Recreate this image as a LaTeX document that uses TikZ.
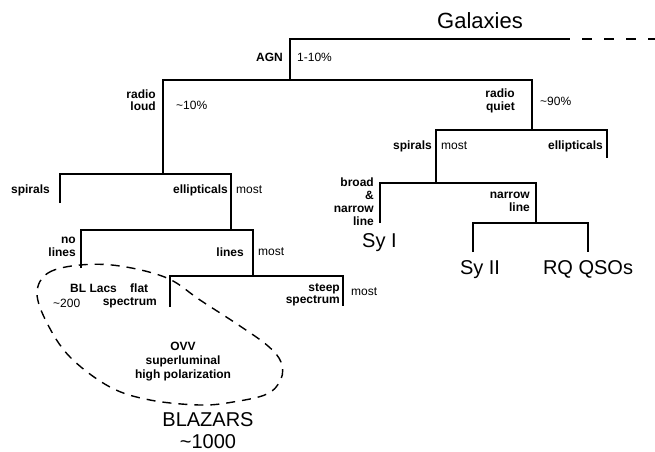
\documentclass[tikz,border=0pt]{standalone}
\usepackage{fontspec}
\setmainfont{Liberation Sans}
\begin{document}
\begin{tikzpicture}[x=1pt,y=-1pt,
  br/.style={line width=1.5pt},
  lab/.style={font=\fontsize{12}{12.5}\selectfont\bfseries, inner sep=0pt},
  labr/.style={font=\fontsize{12}{12.5}\selectfont, inner sep=0pt},
  big/.style={font=\fontsize{20}{22}\selectfont, inner sep=0pt},
  blob/.style={line width=1.4pt, dash pattern=on 9pt off 7pt},
  gdash/.style={line width=1.5pt, dash pattern=on 10pt off 12pt}]
\useasboundingbox (0,0) rectangle (655,451);
% tree coordinates
\coordinate (g0) at (290,39); \coordinate (gs) at (560,39); \coordinate (ge) at (655,39);
\coordinate (agn) at (290,80);
\coordinate (rl) at (163,80); \coordinate (rq) at (532,80);
\coordinate (rlb) at (163,174); \coordinate (rqb) at (532,130);
% radio loud split
\coordinate (sp1t) at (60,174); \coordinate (sp1b) at (60,203);
\coordinate (el1t) at (231,174); \coordinate (el1b) at (231,230);
% ellipticals split
\coordinate (nlt) at (81,230); \coordinate (nlb) at (81,268);
\coordinate (lnt) at (253,230); \coordinate (lnb) at (253,276);
% lines split
\coordinate (flt) at (170,276); \coordinate (flb) at (170,307);
\coordinate (stt) at (343,276); \coordinate (stb) at (343,306);
% radio quiet split
\coordinate (sp2t) at (436,130); \coordinate (sp2b) at (436,183);
\coordinate (el2t) at (607,130); \coordinate (el2b) at (607,158);
% spirals split
\coordinate (bnt) at (380,183); \coordinate (bnb) at (380,223);
\coordinate (nnt) at (536,183); \coordinate (nnb) at (536,223);
% narrow split
\coordinate (s2t) at (473,223); \coordinate (s2b) at (473,252);
\coordinate (qst) at (588,223); \coordinate (qsb) at (588,252);

\draw[br] (agn) -- (g0) -- (gs);
\draw[gdash] (gs) -- (ge);
\draw[br] (rlb) -- (rl) -- (rq) -- (rqb);
\draw[br] (sp1b) -- (sp1t) -- (el1t) -- (el1b);
\draw[br] (nlb) -- (nlt) -- (lnt) -- (lnb);
\draw[br] (flb) -- (flt) -- (stt) -- (stb);
\draw[br] (sp2b) -- (sp2t) -- (el2t) -- (el2b);
\draw[br] (bnb) -- (bnt) -- (nnt) -- (nnb);
\draw[br] (s2b) -- (s2t) -- (qst) -- (qsb);

% labels
\node[big, font=\fontsize{22}{24}\selectfont, anchor=base west] (tgal) at (437,28) {Galaxies};
\node[lab, anchor=east] (tagn) at (283,57) {AGN};
\node[labr, anchor=west] (tagnp) at (297,57) {1-10\%};
\node[lab, anchor=east, align=right] (trl) at (156,100) {radio\\loud};
\node[labr, anchor=west] (trlp) at (176,105) {\textasciitilde10\%};
\node[lab, anchor=east, align=right] (trq) at (515,101) {radio\\quiet};
\node[labr, anchor=west] (trqp) at (540,101) {\textasciitilde90\%};
\node[lab, anchor=east] (tsp2) at (432,146) {spirals};
\node[labr, anchor=west] (tm2) at (441,146) {most};
\node[lab, anchor=east] (tel2) at (603,146) {ellipticals};
\node[lab, anchor=east, align=right, font=\fontsize{12}{13}\selectfont\bfseries] (tbn) at (374,202) {broad\\\&\\narrow\\line};
\node[lab, anchor=east, align=right] (tnn) at (530,202) {narrow\\line};
\node[big, anchor=base west] (tsy1) at (362,247) {Sy I};
\node[big, anchor=base] (tsy2) at (480,274) {Sy II};
\node[big, anchor=base] (tqso) at (588,274) {RQ QSOs};

\node[lab, anchor=east] (tsp1) at (50,190) {spirals};
\node[lab, anchor=east] (tel1) at (228,190) {ellipticals};
\node[labr, anchor=west] (tm1) at (236,190) {most};
\node[lab, anchor=east, align=right] (tnl) at (76,247) {no\\lines};
\node[lab, anchor=east] (tln) at (244,252) {lines};
\node[labr, anchor=west] (tm3) at (258,252) {most};
\node[lab, anchor=west] (tbl) at (70,288) {BL Lacs};
\node[lab, anchor=west] (tfl) at (130,288) {flat};
\node[labr, anchor=west] (t200) at (53,303) {\textasciitilde200};
\node[lab, anchor=east] (tfsp) at (157,303) {spectrum};
\node[lab, anchor=east, align=right] (tst) at (340,295) {steep\\spectrum};
\node[labr, anchor=west] (tm4) at (351,292) {most};
\node[lab, align=center, font=\fontsize{12}{14}\selectfont\bfseries] (tovv) at (183,362) {OVV\\superluminal\\high polarization};
\node[big, anchor=base] (tblz) at (208,426) {BLAZARS};
\node[big, anchor=base] (t1000) at (208,448) {\textasciitilde1000};

% blazar region
\draw[blob] plot[smooth cycle, tension=0.6] coordinates {(37,293) (48,273) (80,265) (120,266) (167,278) (200,300) (240,326) (268,346) (281,362) (281,379) (267,394) (233,402) (200,405) (150,400) (110,387) (70,357) (47,323)};
\end{tikzpicture}
\end{document}
